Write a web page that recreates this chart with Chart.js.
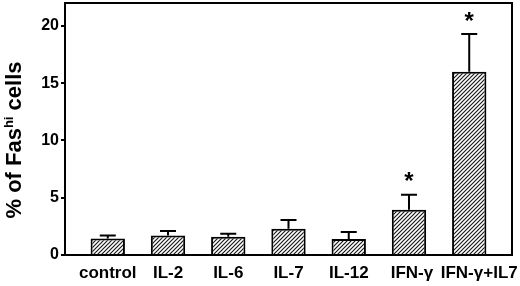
<!DOCTYPE html>
<html><head><meta charset="utf-8">
<script src="https://cdn.jsdelivr.net/npm/chart.js@4/dist/chart.umd.min.js"></script>
<style>html,body{margin:0;padding:0;background:#fff}#wrap{width:520px;height:286px}</style>
</head><body><div id="wrap"><canvas id="c" width="520" height="286"></canvas></div>
<script>
const categories = ["control", "IL-2", "IL-6", "IL-7", "IL-12", "IFN-\u03b3", "IFN-\u03b3+IL7"];
const means = [1.45, 1.7, 1.6, 2.3, 1.4, 3.95, 16.0];
const errors = [0.25, 0.4, 0.25, 0.75, 0.6, 1.3, 3.3];
const significant = [false, false, false, false, false, true, true];
const yTicks = [0, 5, 10, 15, 20];

const FONT = '"Liberation Sans", Arial, Helvetica, sans-serif';
const labelShift = [0, 0, 0, 0, 0, 3, 10];

function hatch() {
  const p = document.createElement('canvas');
  p.width = 4; p.height = 4;
  const g = p.getContext('2d');
  g.fillStyle = '#fff'; g.fillRect(0,0,4,4);
  g.strokeStyle = '#1a1a1a'; g.lineWidth = 1.2;
  g.beginPath();
  g.moveTo(-1,5); g.lineTo(5,-1);
  g.moveTo(-1,1); g.lineTo(1,-1);
  g.moveTo(3,5); g.lineTo(5,3);
  g.stroke();
  return g.createPattern(p, 'repeat');
}

const ctx = document.getElementById('c').getContext('2d');

const overlay = {
  id: 'overlay',
  afterDatasetsDraw(chart) {
    const g = chart.ctx, x = chart.scales.x, y = chart.scales.y, a = chart.chartArea;
    const meta = chart.getDatasetMeta(0);
    g.save();
    g.strokeStyle = '#000'; g.lineWidth = 2;
    meta.data.forEach((bar, i) => {
      const top = y.getPixelForValue(means[i] + errors[i]);
      const base = y.getPixelForValue(means[i]);
      g.beginPath();
      g.moveTo(bar.x, base); g.lineTo(bar.x, top);
      g.moveTo(bar.x - 8, top); g.lineTo(bar.x + 8, top);
      g.stroke();
      if (significant[i]) {
        g.fillStyle = '#000';
        g.font = 'bold 24px ' + FONT;
        g.textAlign = 'center'; g.textBaseline = 'middle';
        g.fillText('*', bar.x, top - 12);
      }
    });
    g.lineWidth = 2;
    g.strokeRect(a.left, a.top, a.right - a.left, a.bottom - a.top);
    // x category labels
    g.fillStyle = '#000';
    g.font = 'bold 17px ' + FONT;
    g.textAlign = 'center'; g.textBaseline = 'alphabetic';
    categories.forEach((c, i) => {
      g.fillText(c, x.getPixelForValue(i) + labelShift[i], a.bottom + 23);
    });
    // y title
    g.translate(15, 140);
    g.rotate(-Math.PI/2);
    g.textBaseline = 'middle';
    const big = 'bold 22px ' + FONT, small = 'bold 13px ' + FONT;
    const parts = [['% of Fas', big, 0], ['hi', small, -6], [' cells', big, 0]];
    let w = 0;
    parts.forEach(p => { g.font = p[1]; w += g.measureText(p[0]).width; });
    let cx = -w/2;
    g.textAlign = 'left';
    parts.forEach(p => { g.font = p[1]; g.fillText(p[0], cx, p[2]); cx += g.measureText(p[0]).width; });
    g.restore();
  }
};

new Chart(ctx, {
  type: 'bar',
  data: {
    datasets: [{
      data: means.map((v, i) => ({x: i, y: v})),
      backgroundColor: hatch(),
      borderColor: '#000',
      borderWidth: 2,
      barPercentage: 0.57,
      categoryPercentage: 1
    }]
  },
  options: {
    responsive: false,
    animation: false,
    layout: { padding: { top: 3, right: 8, left: 0, bottom: 0 } },
    plugins: { legend: { display: false }, tooltip: { enabled: false } },
    scales: {
      x: {
        type: 'linear',
        offset: false,
        min: -0.71, max: 6.71,
        afterBuildTicks: s => { s.ticks = categories.map((c, i) => ({value: i})); },
        afterFit: s => { s.height = 31; s.paddingLeft = 0; s.paddingRight = 0; },
        grid: { display: false, offset: false },
        border: { display: false },
        ticks: { display: false }
      },
      y: {
        min: 0, max: 22,
        afterBuildTicks: s => { s.ticks = yTicks.map(v => ({value: v})); },
        afterFit: s => { s.width = 65; s.paddingTop = 0; s.paddingBottom = 0; },
        grid: { drawOnChartArea: false, drawTicks: true, tickLength: 4, color: '#000', lineWidth: 2 },
        border: { display: true, color: '#000', width: 2 },
        ticks: {
          color: '#000', padding: 2,
          font: { family: FONT, size: 16, weight: 'bold' }
        }
      }
    }
  },
  plugins: [overlay]
});
</script>
</body></html>
